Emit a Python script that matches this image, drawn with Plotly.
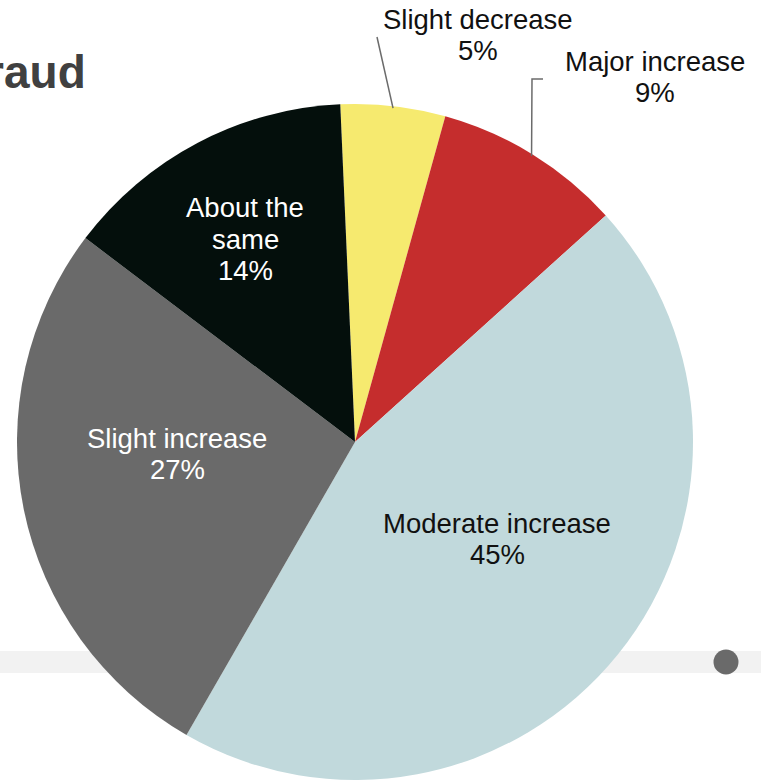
import math
import plotly.graph_objects as go

# Survey answers, clockwise from 12 o'clock
categories = ["Slight decrease", "Major increase", "Moderate increase", "Slight increase", "About the same"]
shares = [5, 9, 45, 27, 14]
colors = ["#f6ea6f", "#c52d2d", "#c1d9dc", "#6a6a6a", "#040f0c"]
text_colors = ["#111111", "#111111", "#111111", "#ffffff", "#ffffff"]

W, H = 761, 781
CX, CY, R = 355, 442, 338   # pie centre and radius in pixels
ROTATION = -2.5
LINE_GAP = 31.5             # pixels between label lines


def px(x):
    return x / W


def py(y):
    return 1 - y / H


fig = go.Figure()

fig.add_trace(go.Pie(
    labels=categories,
    values=shares,
    sort=False,
    direction="clockwise",
    rotation=ROTATION,
    marker=dict(colors=colors, line=dict(width=0)),
    textinfo="none",
    hoverinfo="label+percent",
    showlegend=False,
    domain=dict(x=[px(CX - R), px(CX + R)], y=[py(CY + R), py(CY - R)]),
))

# mid-angle of each slice (degrees clockwise from top)
total = sum(shares)
mid_angles = []
acc = 0
for v in shares:
    mid_angles.append(ROTATION + 360 * (acc + v / 2) / total)
    acc += v


def edge_point(angle_deg, rr=R):
    a = math.radians(angle_deg)
    return CX + rr * math.sin(a), CY - rr * math.cos(a)


# label block centres
label_pos = {
    "Slight decrease": (478, 35),
    "Major increase": (655, 77),
    "Moderate increase": (497, 539),
    "Slight increase": (177, 454),
    "About the same": (245, 239),
}
wrap = {"About the same": ["About the", "same"]}

font_family = "Liberation Sans, Arial, sans-serif"
annotations = []
for cat, val, tc in zip(categories, shares, text_colors):
    x, y = label_pos[cat]
    lines = wrap.get(cat, [cat]) + [f"{val}%"]
    top = y - LINE_GAP * (len(lines) - 1) / 2
    for i, line in enumerate(lines):
        annotations.append(dict(
            x=px(x), y=py(top + i * LINE_GAP), xref="paper", yref="paper",
            text=line,
            showarrow=False, xanchor="center", yanchor="middle",
            font=dict(family=font_family, size=27.5, color=tc),
        ))

# partially visible heading at top-left
annotations.append(dict(
    x=px(88), y=py(72), xref="paper", yref="paper",
    text="<b>Fraud</b>", showarrow=False, xanchor="right", yanchor="middle",
    font=dict(family=font_family, size=46, color="#404040"),
))

shapes = [
    # light band behind the pie
    dict(type="rect", xref="paper", yref="paper", layer="below",
         x0=0, x1=1, y0=py(673), y1=py(651),
         fillcolor="#f2f2f2", line=dict(width=0)),
    # dot on the band
    dict(type="circle", xref="paper", yref="paper", layer="above",
         x0=px(726 - 12.5), x1=px(726 + 12.5), y0=py(662 + 12.5), y1=py(662 - 12.5),
         fillcolor="#6a6a6a", line=dict(width=0)),
]

# leader lines for the two small outside-labelled slices
ex, ey = edge_point(mid_angles[0], R - 2)
shapes.append(dict(type="path", xref="paper", yref="paper",
                   path=f"M {px(377)},{py(37)} L {px(ex)},{py(ey)}",
                   line=dict(color="#6b6b6b", width=1.5)))
ex, ey = edge_point(mid_angles[1], R - 2)
shapes.append(dict(type="path", xref="paper", yref="paper",
                   path=f"M {px(543)},{py(79)} L {px(532)},{py(79)} L {px(ex)},{py(ey)}",
                   line=dict(color="#6b6b6b", width=1.5)))

fig.update_layout(
    width=W, height=H,
    margin=dict(l=0, r=0, t=0, b=0),
    paper_bgcolor="white",
    plot_bgcolor="white",
    annotations=annotations,
    shapes=shapes,
)

fig.write_html("out.html")
